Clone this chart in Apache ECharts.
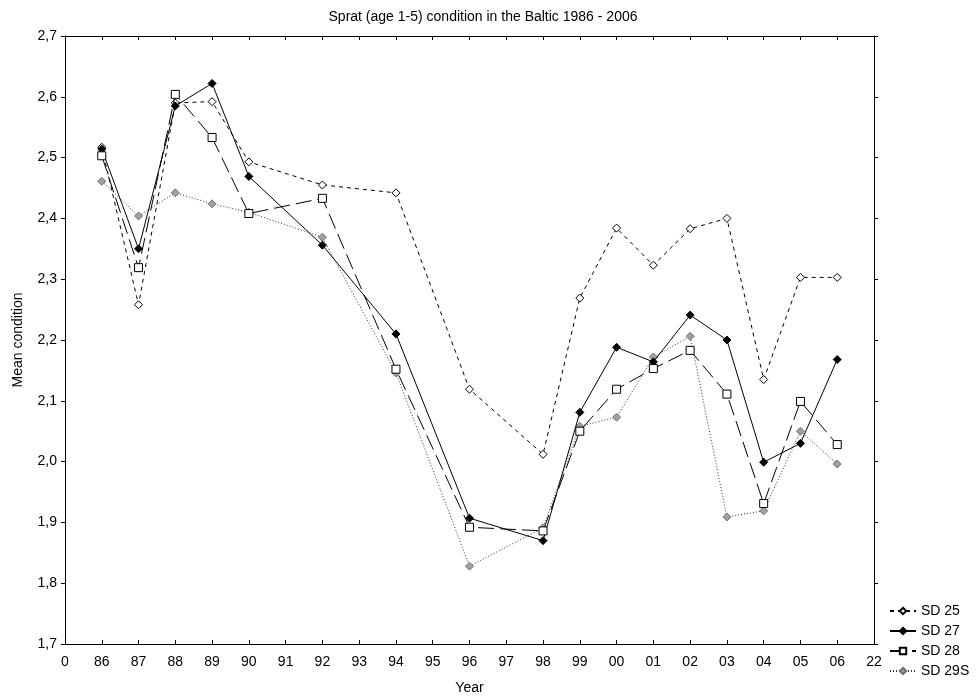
<!DOCTYPE html>
<html>
<head>
<meta charset="utf-8">
<script src="https://cdn.jsdelivr.net/npm/echarts@6/dist/echarts.min.js"></script>
<style>html,body{margin:0;padding:0;background:#fff;}#c{width:977px;height:700px;}</style>
</head>
<body>
<div id="c"></div>
<script>
var years = ['0','86','87','88','89','90','91','92','93','94','95','96','97','98','99','00','01','02','03','04','05','06','22'];
var sd25  = [null,2.517,2.258,2.590,2.592,2.493,null,2.455,null,2.442,null,2.119,null,2.012,2.269,2.384,2.323,2.383,2.400,2.135,2.303,2.303,null];
var sd27  = [null,2.514,2.350,2.585,2.622,2.469,null,2.356,null,2.210,null,1.907,null,1.870,2.081,2.188,2.164,2.241,2.200,1.999,2.030,2.168,null];
var sd28  = [null,2.503,2.319,2.604,2.533,2.408,null,2.433,null,2.152,null,1.892,null,1.886,2.050,2.119,2.153,2.183,2.111,1.931,2.099,2.028,null];
var sd29s = [null,2.461,2.404,2.442,2.424,2.410,null,2.369,null,2.146,null,1.828,null,1.891,2.058,2.073,2.172,2.206,1.909,1.919,2.050,1.996,null];
var seriesNames = ['SD 25','SD 27','SD 28','SD 29S'];

var font = '"Liberation Sans", Arial, sans-serif';
var chart = echarts.init(document.getElementById('c'), null, {renderer:'canvas'});
function fmt(v){ return v.toFixed(1).replace('.', ','); }
var option = {
  animation:false,
  backgroundColor:'#fff',
  title:{text:'Sprat (age 1-5) condition in the Baltic 1986 - 2006', left:478, top:5, textAlign:'center',
    textStyle:{fontFamily:font,fontSize:14,fontWeight:'normal',color:'#000'}},
  grid:{left:65, right:103, top:36, bottom:56, containLabel:false},
  legend:{orient:'vertical', left:884, top:599, itemGap:6, itemWidth:26, itemHeight:8,
    data:seriesNames, textStyle:{fontFamily:font,fontSize:14,color:'#000'}},
  xAxis:[{
    type:'category', data:years, boundaryGap:false, position:'bottom',
    name:'Year', nameLocation:'middle', nameGap:37,
    nameTextStyle:{fontFamily:font,fontSize:14,color:'#000'},
    axisLine:{lineStyle:{color:'#000',width:1}},
    axisTick:{inside:true,length:4,lineStyle:{color:'#000'},alignWithLabel:true},
    axisLabel:{fontFamily:font,fontSize:14,color:'#000',margin:11,interval:0},
    splitLine:{show:false}
  },{
    type:'category', data:years, boundaryGap:false, position:'top',
    axisLine:{lineStyle:{color:'#000',width:1}},
    axisTick:{inside:true,length:4,lineStyle:{color:'#000'},interval:0},
    axisLabel:{show:false}, splitLine:{show:false}
  }],
  yAxis:[{
    type:'value', min:1.7, max:2.7, interval:0.1, position:'left',
    name:'Mean condition', nameLocation:'middle', nameGap:40, nameRotate:90,
    nameTextStyle:{fontFamily:font,fontSize:14,color:'#000'},
    axisLine:{show:true,lineStyle:{color:'#000',width:1}},
    axisTick:{show:true,inside:false,length:4,lineStyle:{color:'#000'}},
    axisLabel:{fontFamily:font,fontSize:14,color:'#000',margin:8,formatter:fmt},
    splitLine:{show:false}
  },{
    type:'value', min:1.7, max:2.7, interval:0.1, position:'right',
    axisLine:{show:true,lineStyle:{color:'#000',width:1}},
    axisTick:{show:true,inside:false,length:4,lineStyle:{color:'#000'}},
    axisLabel:{show:false}, splitLine:{show:false}
  }],
  series:[
    {name:'SD 25', type:'line', data:sd25, connectNulls:true, symbol:'diamond', symbolSize:8,
      itemStyle:{color:'#fff',borderColor:'#000',borderWidth:1},
      lineStyle:{color:'#000',width:1,type:[4,4]}, z:2},
    {name:'SD 27', type:'line', data:sd27, connectNulls:true, symbol:'diamond', symbolSize:8,
      itemStyle:{color:'#000',borderColor:'#000',borderWidth:1},
      lineStyle:{color:'#000',width:1,type:'solid'}, z:3},
    {name:'SD 28', type:'line', data:sd28, connectNulls:true, symbol:'rect', symbolSize:8,
      itemStyle:{color:'#fff',borderColor:'#000',borderWidth:1},
      lineStyle:{color:'#000',width:1,type:[16,6]}, z:4},
    {name:'SD 29S', type:'line', data:sd29s, connectNulls:true, symbol:'diamond', symbolSize:8,
      itemStyle:{color:'#a0a0a0',borderColor:'#707070',borderWidth:1},
      lineStyle:{color:'#333',width:1,type:[1,2]}, z:1}
  ]
};
chart.setOption(option);
</script>
</body>
</html>
